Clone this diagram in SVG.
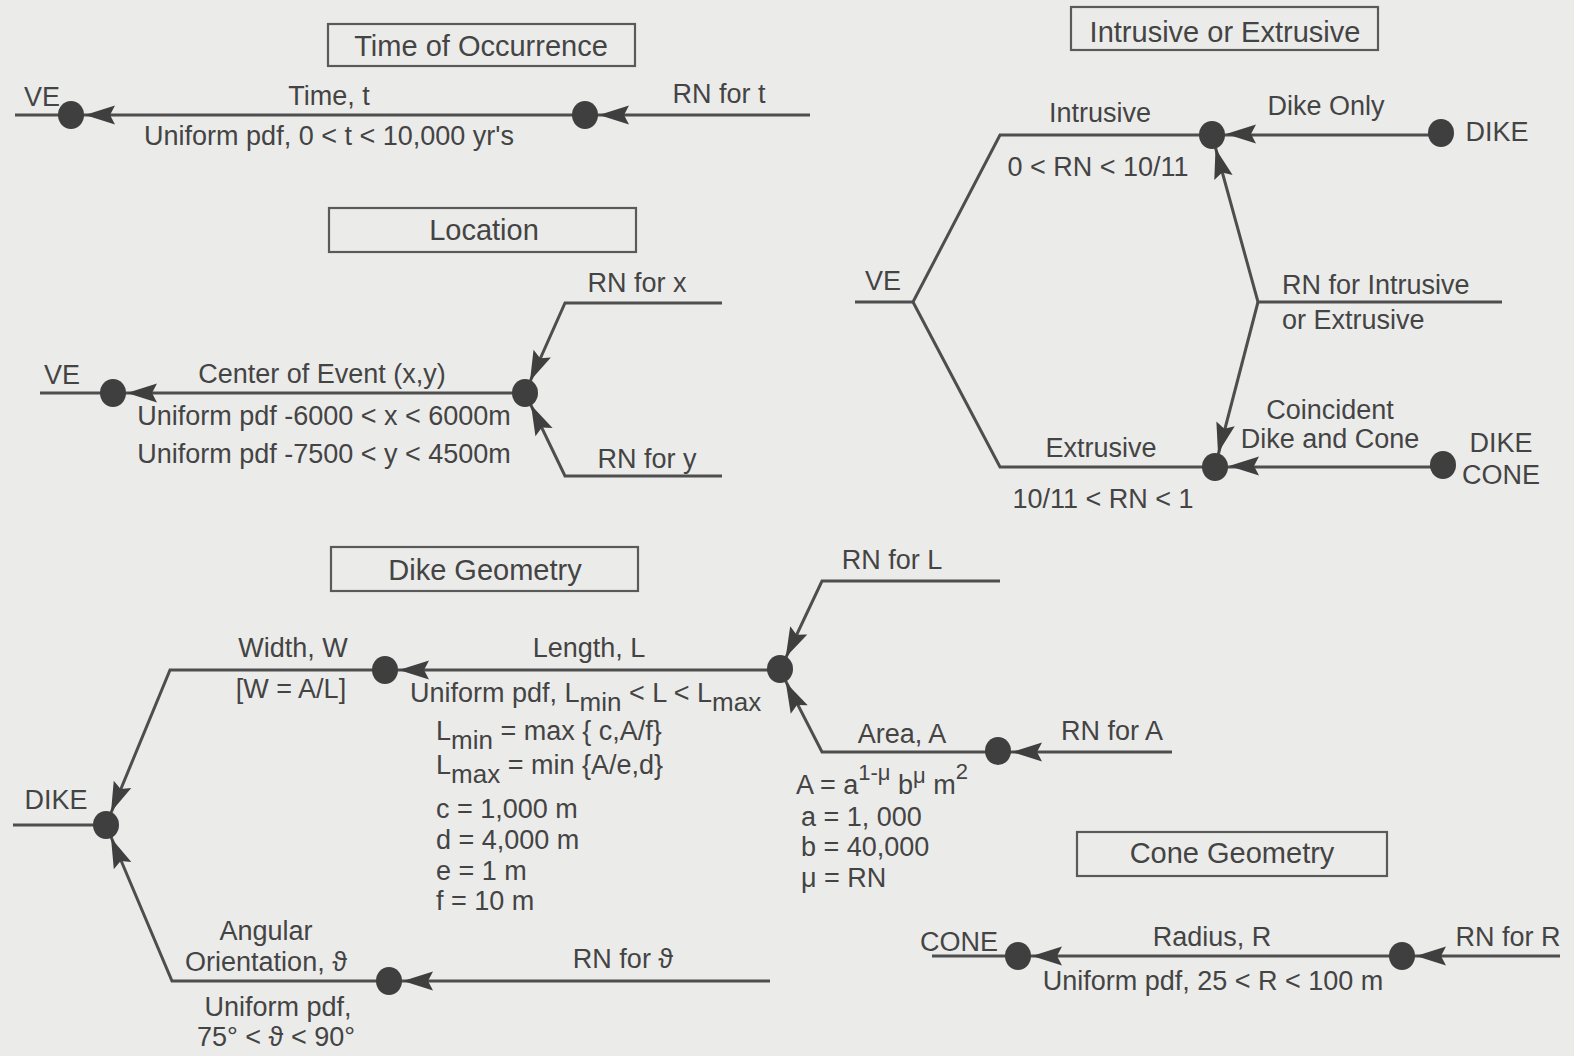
<svg xmlns="http://www.w3.org/2000/svg" xmlns:xlink="http://www.w3.org/1999/xlink" width="1574" height="1056" viewBox="0 0 1574 1056">
  <style>
    text { font-family: "Liberation Sans", Arial, sans-serif; font-size: 27px; fill: #444444; }
    .c { text-anchor: middle; }
    .title { font-size: 29px; text-anchor: middle; }
    .sub { font-size: 26px; }
    .sup { font-size: 22px; }
    .box { fill: none; stroke: #5a5a5a; stroke-width: 2.2; }
    .wire { fill: none; stroke: #4e4e4e; stroke-width: 3; stroke-linejoin: miter; }
    .dot { fill: #3f3f3f; }
    .ah { fill: #3f3f3f; }
  </style>
  <defs>
    <!-- notched arrowhead, tip at the origin, pointing left -->
    <path id="ah" class="ah" d="M0,0 L30,-9.5 L25,0 L30,9.5 Z"/>
  </defs>

  <rect x="0" y="0" width="1574" height="1056" fill="#ebebea"/>

  <!-- connectors -->
  <g id="connectors">
    <!-- time of occurrence -->
    <path class="wire" d="M15,115 H810"/>
    <use href="#ah" transform="translate(85,115)"/>
    <use href="#ah" transform="translate(599,115)"/>

    <!-- location -->
    <path class="wire" d="M40,393 H525"/>
    <path class="wire" d="M722,303 H565 L525,393 L565,476 H722"/>
    <use href="#ah" transform="translate(127,393)"/>
    <use href="#ah" transform="translate(530,381) rotate(-66)"/>
    <use href="#ah" transform="translate(531,405) rotate(64.3)"/>

    <!-- intrusive or extrusive -->
    <path class="wire" d="M855,302 H913 L1000,135 H1441"/>
    <path class="wire" d="M913,302 L1000,467 H1443"/>
    <path class="wire" d="M1502,302 H1258 L1212,135"/>
    <path class="wire" d="M1258,302 L1215,467"/>
    <use href="#ah" transform="translate(1226,134)"/>
    <use href="#ah" transform="translate(1229,466)"/>
    <use href="#ah" transform="translate(1215.5,148.5) rotate(74.6)"/>
    <use href="#ah" transform="translate(1218,453) rotate(-75.4)"/>

    <!-- dike geometry -->
    <path class="wire" d="M13,825 H106 L170,670 H780"/>
    <path class="wire" d="M106,825 L172,981 H770"/>
    <path class="wire" d="M1000,581 H822 L780,670 L822,752 H1172"/>
    <use href="#ah" transform="translate(399,670)"/>
    <use href="#ah" transform="translate(403,981)"/>
    <use href="#ah" transform="translate(1012,752)"/>
    <use href="#ah" transform="translate(111,812) rotate(-67.4)"/>
    <use href="#ah" transform="translate(111,838) rotate(67.3)"/>
    <use href="#ah" transform="translate(785.7,657.3) rotate(-64.2)"/>
    <use href="#ah" transform="translate(785.8,682.6) rotate(63.4)"/>

    <!-- cone geometry -->
    <path class="wire" d="M932,956 H1560"/>
    <use href="#ah" transform="translate(1032,956)"/>
    <use href="#ah" transform="translate(1416,956)"/>
  </g>

  <!-- Time of Occurrence -->
  <g id="time-title">
    <rect class="box" x="328" y="24" width="307" height="42"/>
    <text class="title" x="481" y="56">Time of Occurrence</text>
  </g>
  <g id="time-ve">
    <ellipse class="dot" cx="71" cy="115" rx="13" ry="14"/>
    <text class="c" x="42" y="106">VE</text>
  </g>
  <g id="time-rn">
    <ellipse class="dot" cx="585" cy="115" rx="13" ry="14"/>
    <text class="c" x="719" y="103">RN for t</text>
  </g>
  <g id="time-labels">
    <text class="c" x="329" y="105">Time, t</text>
    <text class="c" x="329" y="145">Uniform pdf, 0 &lt; t &lt; 10,000 yr's</text>
  </g>

  <!-- Location -->
  <g id="location-title">
    <rect class="box" x="329" y="208" width="307" height="44"/>
    <text class="title" x="484" y="240">Location</text>
  </g>
  <g id="location-ve">
    <ellipse class="dot" cx="113" cy="393" rx="13" ry="14"/>
    <text class="c" x="62" y="384">VE</text>
  </g>
  <g id="location-rn">
    <ellipse class="dot" cx="525" cy="393" rx="13" ry="14"/>
    <text class="c" x="637" y="292">RN for x</text>
    <text class="c" x="647" y="468">RN for y</text>
  </g>
  <g id="location-labels">
    <text class="c" x="322" y="383">Center of Event (x,y)</text>
    <text class="c" x="324" y="425">Uniform pdf -6000 &lt; x &lt; 6000m</text>
    <text class="c" x="324" y="463">Uniform pdf -7500 &lt; y &lt; 4500m</text>
  </g>

  <!-- Intrusive or Extrusive -->
  <g id="intrusive-title">
    <rect class="box" x="1071" y="7" width="307" height="43"/>
    <text class="title" x="1225" y="42">Intrusive or Extrusive</text>
  </g>
  <g id="intrusive-ve">
    <text class="c" x="883" y="290">VE</text>
  </g>
  <g id="intrusive-node">
    <ellipse class="dot" cx="1212" cy="135" rx="13" ry="14"/>
    <text class="c" x="1100" y="122">Intrusive</text>
    <text class="c" x="1098" y="176">0 &lt; RN &lt; 10/11</text>
  </g>
  <g id="intrusive-dike">
    <ellipse class="dot" cx="1441" cy="133" rx="13" ry="14"/>
    <text class="c" x="1326" y="115">Dike Only</text>
    <text class="c" x="1497" y="141">DIKE</text>
  </g>
  <g id="intrusive-rn">
    <text x="1282" y="294">RN for Intrusive</text>
    <text x="1282" y="329">or Extrusive</text>
  </g>
  <g id="extrusive-node">
    <ellipse class="dot" cx="1215" cy="467" rx="13" ry="14"/>
    <text class="c" x="1101" y="457">Extrusive</text>
    <text class="c" x="1103" y="508">10/11 &lt; RN &lt; 1</text>
  </g>
  <g id="extrusive-dike-cone">
    <ellipse class="dot" cx="1443" cy="465" rx="13" ry="14"/>
    <text class="c" x="1330" y="419">Coincident</text>
    <text class="c" x="1330" y="448">Dike and Cone</text>
    <text class="c" x="1501" y="452">DIKE</text>
    <text class="c" x="1501" y="484">CONE</text>
  </g>

  <!-- Dike Geometry -->
  <g id="dike-title">
    <rect class="box" x="331" y="547" width="307" height="44"/>
    <text class="title" x="485" y="580">Dike Geometry</text>
  </g>
  <g id="dike-root">
    <ellipse class="dot" cx="106" cy="825" rx="13" ry="14"/>
    <text class="c" x="56" y="809">DIKE</text>
  </g>
  <g id="dike-width">
    <ellipse class="dot" cx="385" cy="670" rx="13" ry="14"/>
    <text class="c" x="293" y="657">Width, W</text>
    <text class="c" x="291" y="698">[W = A/L]</text>
  </g>
  <g id="dike-length">
    <ellipse class="dot" cx="780" cy="669" rx="13" ry="14"/>
    <text class="c" x="589" y="657">Length, L</text>
    <text x="410" y="702">Uniform pdf, L<tspan class="sub" dy="9">min</tspan><tspan dy="-9"> &lt; L &lt; L</tspan><tspan class="sub" dy="9">max</tspan></text>
    <text x="436" y="740">L<tspan class="sub" dy="9">min</tspan><tspan dy="-9"> = max { c,A/f}</tspan></text>
    <text x="436" y="774">L<tspan class="sub" dy="9">max</tspan><tspan dy="-9"> = min {A/e,d}</tspan></text>
    <text x="436" y="818">c = 1,000 m</text>
    <text x="436" y="849">d = 4,000 m</text>
    <text x="436" y="880">e = 1 m</text>
    <text x="436" y="910">f = 10 m</text>
  </g>
  <g id="dike-rn-l">
    <text class="c" x="892" y="569">RN for L</text>
  </g>
  <g id="dike-area">
    <ellipse class="dot" cx="998" cy="751" rx="13" ry="14"/>
    <text class="c" x="902" y="743">Area, A</text>
    <text class="c" x="1112" y="740">RN for A</text>
    <text x="796" y="794">A = a<tspan class="sup" dy="-14">1-μ</tspan><tspan dy="14"> b</tspan><tspan class="sup" dy="-11">μ</tspan><tspan dy="11"> m</tspan><tspan class="sup" dy="-15">2</tspan></text>
    <text x="801" y="826">a = 1, 000</text>
    <text x="801" y="856">b = 40,000</text>
    <text x="801" y="887">μ = RN</text>
  </g>
  <g id="dike-angle">
    <ellipse class="dot" cx="389" cy="981" rx="13" ry="14"/>
    <text class="c" x="266" y="940">Angular</text>
    <text class="c" x="266" y="971">Orientation, ϑ</text>
    <text class="c" x="623" y="968">RN for ϑ</text>
    <text class="c" x="278" y="1016">Uniform pdf,</text>
    <text class="c" x="276" y="1046">75° &lt; ϑ &lt; 90°</text>
  </g>

  <!-- Cone Geometry -->
  <g id="cone-title">
    <rect class="box" x="1077" y="832" width="310" height="44"/>
    <text class="title" x="1232" y="863">Cone Geometry</text>
  </g>
  <g id="cone-end">
    <ellipse class="dot" cx="1018" cy="956" rx="13" ry="14"/>
    <text class="c" x="959" y="951">CONE</text>
  </g>
  <g id="cone-rn">
    <ellipse class="dot" cx="1402" cy="956" rx="13" ry="14"/>
    <text class="c" x="1508" y="946">RN for R</text>
  </g>
  <g id="cone-labels">
    <text class="c" x="1212" y="946">Radius, R</text>
    <text class="c" x="1213" y="990">Uniform pdf, 25 &lt; R &lt; 100 m</text>
  </g>
</svg>
